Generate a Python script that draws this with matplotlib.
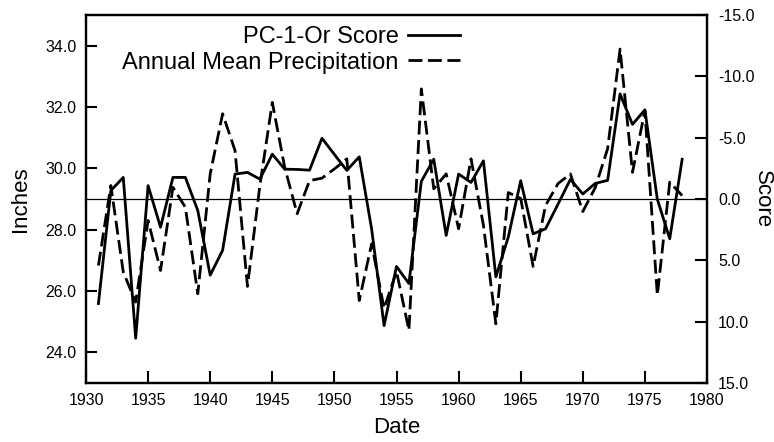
import matplotlib.pyplot as plt

plt.rcParams['font.family'] = ['Liberation Sans', 'DejaVu Sans']

anos = list(range(1931, 1979))

# PC-1-Or score (eixo direito, invertido)
score = [8.52, -0.68, -1.76, 11.35, -1.09, 2.30, -1.76, -1.76, 0.94, 6.21,
         4.18, -2.03, -2.17, -1.62, -3.65, -2.43, -2.41, -2.35, -4.95, -3.63,
         -2.33, -3.44, 2.46, 10.32, 5.50, 6.89, -1.44, -3.24, 2.97, -2.03,
         -1.35, -3.11, 6.35, 3.11, -1.49, 2.84, 2.43, 0.43, -1.60, -0.41,
         -1.27, -1.52, -8.57, -6.08, -7.27, 0.02, 3.24, -3.24]

# precipitacao media anual (polegadas, eixo esquerdo)
precip = [26.83, 29.44, 26.62, 25.64, 28.30, 26.67, 29.38, 28.73, 25.91, 29.82,
          31.78, 30.58, 26.15, 29.44, 32.15, 30.03, 28.52, 29.60, 29.68, 29.98,
          30.31, 25.69, 27.54, 25.43, 26.64, 24.72, 32.59, 29.33, 29.82, 28.03,
          30.31, 28.14, 24.93, 29.21, 29.02, 26.80, 28.79, 29.50, 29.82, 28.59,
          29.37, 30.64, 33.89, 29.87, 31.88, 25.86, 29.55, 29.11]

ticks_x = list(range(1930, 1981, 5))
ticks_esq = [24.0, 26.0, 28.0, 30.0, 32.0, 34.0]
ticks_dir = [-15.0, -10.0, -5.0, 0.0, 5.0, 10.0, 15.0]

fig = plt.figure(figsize=(7.74, 4.42), dpi=100)
ax = fig.add_axes([86/774, 1-383/442, (707-86)/774, (383-15)/442])
ax2 = ax.twinx()

l2, = ax.plot(anos, precip, color='black', lw=2, linestyle=(0, (5, 2)),
              label='Annual Mean Precipitation')
l1, = ax2.plot(anos, score, color='black', lw=2, label='PC-1-Or Score')
ax2.axhline(0, color='black', lw=0.9)

ax.set_xlim(1930, 1980)
ax.set_ylim(23, 35)
ax2.set_ylim(15, -15)

ax.set_xticks(ticks_x)
ax.set_yticks(ticks_esq)
ax.set_yticklabels(['%.1f' % v for v in ticks_esq])
ax2.set_yticks(ticks_dir)
ax2.set_yticklabels(['%.1f' % v for v in ticks_dir])

ax.tick_params(axis='x', direction='in', length=9, width=1.5, labelsize=11.5, pad=7)
ax.tick_params(axis='y', direction='in', length=8, width=1.5, labelsize=11.5, pad=7)
ax2.tick_params(axis='y', direction='in', length=9, width=1.5, labelsize=11.5, pad=8)

for a in (ax, ax2):
    for s in a.spines.values():
        s.set_linewidth(1.6)

ax.set_xlabel('Date', fontsize=16, labelpad=7)
ax.set_ylabel('Inches', fontsize=16, labelpad=10)
ax2.set_ylabel('Score', fontsize=16, rotation=270, va='center')
ax2.yaxis.set_label_coords((762-86)/621, 0.5)

fig.legend(handles=[l1, l2], loc='upper right', bbox_to_anchor=(460/774, 1-26/442),
           frameon=False, markerfirst=False, fontsize=17, handlelength=2.2,
           handletextpad=0.4, labelspacing=0.15, borderaxespad=0, borderpad=0)

plt.savefig('out.png', dpi=100)
